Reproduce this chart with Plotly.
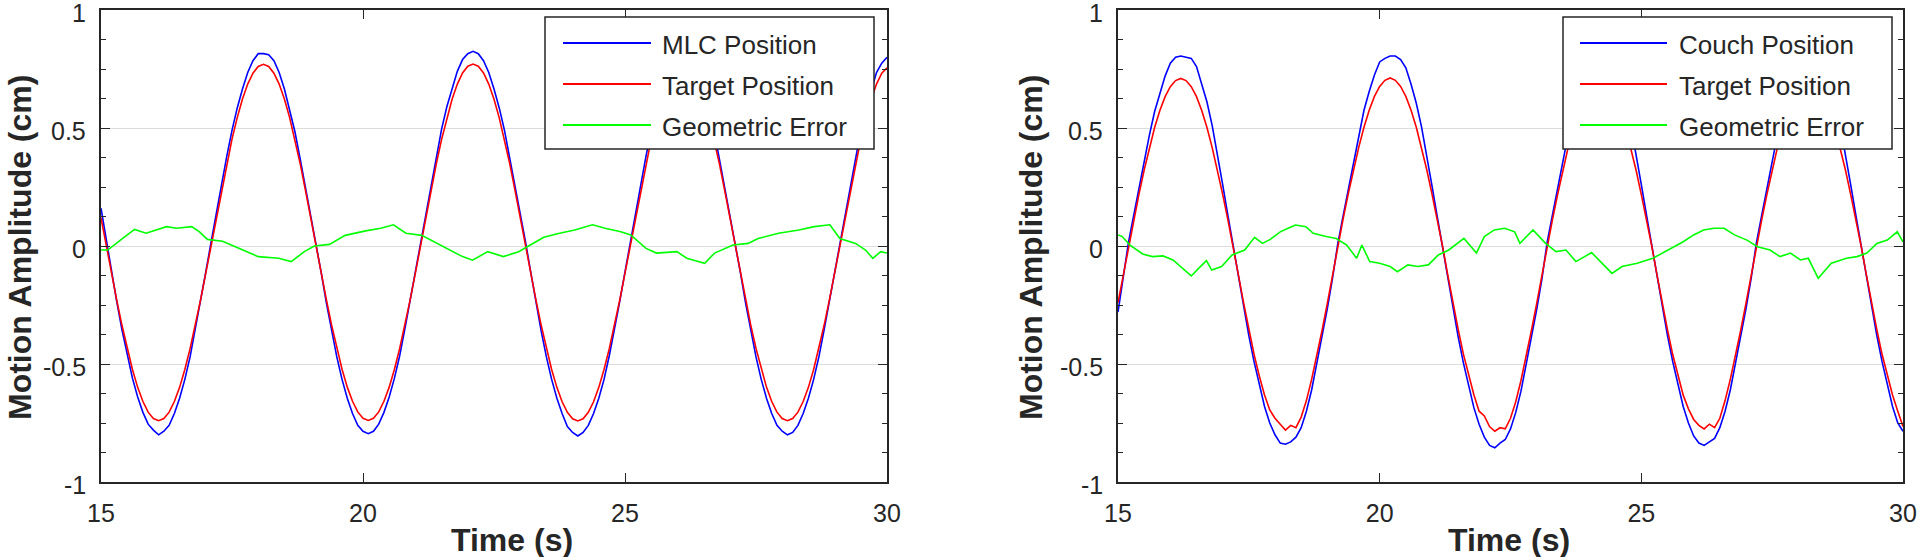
import numpy as np
import plotly.graph_objects as go

# ---------------- data ----------------
time_s = np.round(np.arange(15.0, 30.0001, 0.1), 1)

mlc_position = [0.16,
    0.025, -0.105, -0.235, -0.355, -0.465, -0.56, -0.64, -0.705, -0.755, -0.78, -0.8, -0.785, -0.76, -0.71, -0.645, -0.565, -0.47, -0.355, -0.235, -0.11,
    0.015, 0.14, 0.26, 0.38, 0.49, 0.585, 0.665, 0.735, 0.785, 0.815, 0.815, 0.81, 0.785, 0.735, 0.665, 0.58, 0.485, 0.37, 0.25, 0.13,
    0.02, -0.11, -0.24, -0.36, -0.47, -0.565, -0.645, -0.71, -0.76, -0.785, -0.795, -0.785, -0.755, -0.705, -0.64, -0.56, -0.465, -0.35, -0.23, -0.105,
    0.02, 0.145, 0.265, 0.385, 0.495, 0.59, 0.67, 0.74, 0.79, 0.815, 0.825, 0.815, 0.785, 0.735, 0.665, 0.585, 0.49, 0.375, 0.255, 0.135,
    0.02, -0.11, -0.24, -0.36, -0.47, -0.565, -0.645, -0.71, -0.765, -0.79, -0.805, -0.79, -0.76, -0.71, -0.645, -0.565, -0.465, -0.355, -0.235, -0.11,
    0.015, 0.14, 0.26, 0.38, 0.49, 0.585, 0.665, 0.735, 0.785, 0.81, 0.82, 0.81, 0.785, 0.735, 0.665, 0.58, 0.485, 0.37, 0.25, 0.13,
    0.02, -0.11, -0.24, -0.36, -0.47, -0.565, -0.645, -0.71, -0.76, -0.785, -0.8, -0.79, -0.76, -0.71, -0.645, -0.565, -0.47, -0.355, -0.235, -0.11,
    0.015, 0.14, 0.26, 0.38, 0.49, 0.585, 0.665, 0.735, 0.775, 0.8]

target_left = [0.12,
    0.0, -0.115, -0.229, -0.336, -0.435, -0.523, -0.599, -0.659, -0.704, -0.731, -0.74, -0.731, -0.704, -0.659, -0.599, -0.523, -0.435, -0.336, -0.229, -0.115,
    0.0, 0.12, 0.238, 0.35, 0.453, 0.544, 0.623, 0.686, 0.732, 0.761, 0.77, 0.761, 0.732, 0.686, 0.623, 0.544, 0.453, 0.35, 0.238, 0.12,
    0.004, -0.112, -0.226, -0.334, -0.434, -0.522, -0.598, -0.658, -0.703, -0.73, -0.739, -0.73, -0.703, -0.658, -0.598, -0.522, -0.434, -0.335, -0.228, -0.114,
    0.002, 0.119, 0.237, 0.349, 0.452, 0.543, 0.622, 0.686, 0.733, 0.762, 0.771, 0.762, 0.733, 0.686, 0.622, 0.543, 0.452, 0.349, 0.237, 0.119,
    0.002, -0.114, -0.228, -0.335, -0.435, -0.523, -0.599, -0.66, -0.705, -0.732, -0.741, -0.732, -0.705, -0.66, -0.599, -0.523, -0.435, -0.336, -0.229, -0.115,
    0.0, 0.12, 0.238, 0.35, 0.453, 0.544, 0.623, 0.687, 0.733, 0.762, 0.77, 0.761, 0.732, 0.686, 0.623, 0.544, 0.453, 0.35, 0.238, 0.12,
    0.003, -0.113, -0.227, -0.335, -0.434, -0.522, -0.598, -0.659, -0.704, -0.731, -0.74, -0.731, -0.704, -0.659, -0.599, -0.523, -0.435, -0.336, -0.229, -0.115,
    0.0, 0.12, 0.238, 0.35, 0.453, 0.544, 0.623, 0.686, 0.732, 0.755]

err_left_t = [15.0, 15.13, 15.37, 15.64, 15.86, 16.25, 16.44, 16.73, 16.88, 17.03, 17.32, 17.71, 18.0, 18.39, 18.63, 18.88,
              19.07, 19.36, 19.66, 20.05, 20.34, 20.58, 20.82, 21.12, 21.41, 21.9, 22.09, 22.38, 22.68, 22.97, 23.16, 23.45,
              23.75, 24.04, 24.38, 24.62, 24.92, 25.11, 25.4, 25.6, 25.99, 26.18, 26.52, 26.71, 27.06, 27.35, 27.54, 27.93,
              28.32, 28.61, 28.91, 29.1, 29.4, 29.59, 29.73, 29.88, 30.0]
err_left = [-0.017, -0.017, 0.025, 0.07, 0.054, 0.082, 0.075, 0.082, 0.06, 0.028, 0.02, -0.017, -0.045, -0.052, -0.066, -0.024,
            0.0, 0.007, 0.045, 0.064, 0.075, 0.09, 0.054, 0.045, 0.011, -0.045, -0.06, -0.024, -0.045, -0.024, 0.0, 0.037,
            0.054, 0.068, 0.09, 0.075, 0.06, 0.047, -0.01, -0.03, -0.024, -0.052, -0.073, -0.03, 0.004, 0.011, 0.032, 0.054,
            0.068, 0.082, 0.09, 0.032, 0.011, -0.017, -0.052, -0.024, -0.03]

couch_position = [-0.28, -0.14,
    0.015, 0.13, 0.245, 0.36, 0.47, 0.57, 0.65, 0.72, 0.775, 0.8, 0.805, 0.8, 0.795, 0.76, 0.69, 0.61, 0.51, 0.39, 0.26, 0.13,
    0.0, -0.13, -0.26, -0.38, -0.49, -0.59, -0.68, -0.75, -0.8, -0.835, -0.84, -0.83, -0.81, -0.77, -0.70, -0.61, -0.50, -0.385, -0.265, -0.135,
    0.01, 0.125, 0.24, 0.355, 0.47, 0.575, 0.655, 0.725, 0.78, 0.795, 0.805, 0.805, 0.79, 0.755, 0.685, 0.605, 0.505, 0.385, 0.255, 0.125,
    -0.005, -0.135, -0.265, -0.385, -0.495, -0.595, -0.685, -0.755, -0.81, -0.845, -0.855, -0.835, -0.82, -0.775, -0.705, -0.615, -0.505, -0.39, -0.27, -0.14,
    0.015, 0.13, 0.245, 0.36, 0.47, 0.57, 0.65, 0.72, 0.77, 0.795, 0.8, 0.8, 0.79, 0.755, 0.69, 0.61, 0.51, 0.39, 0.26, 0.13,
    0.0, -0.13, -0.26, -0.38, -0.49, -0.59, -0.68, -0.75, -0.805, -0.835, -0.845, -0.83, -0.815, -0.77, -0.70, -0.61, -0.50, -0.385, -0.265, -0.135,
    0.015, 0.13, 0.245, 0.36, 0.47, 0.57, 0.65, 0.72, 0.775, 0.8, 0.805, 0.8, 0.795, 0.76, 0.69, 0.61, 0.51, 0.39, 0.26, 0.13,
    0.0, -0.13, -0.26, -0.38, -0.49, -0.59, -0.68, -0.75, -0.785]

target_right = [-0.24, -0.122,
    0.0, 0.111, 0.219, 0.322, 0.417, 0.502, 0.574, 0.633, 0.675, 0.701, 0.71, 0.701, 0.675, 0.633, 0.574, 0.502, 0.417, 0.322, 0.219, 0.111,
    0.0, -0.122, -0.241, -0.354, -0.459, -0.551, -0.631, -0.695, -0.73, -0.755, -0.78, -0.76, -0.77, -0.725, -0.655, -0.565, -0.465, -0.357, -0.243, -0.123,
    0.002, 0.113, 0.221, 0.324, 0.418, 0.503, 0.575, 0.634, 0.676, 0.702, 0.712, 0.702, 0.676, 0.634, 0.575, 0.503, 0.418, 0.323, 0.22, 0.112,
    0.001, -0.121, -0.24, -0.353, -0.458, -0.55, -0.63, -0.70, -0.72, -0.765, -0.785, -0.77, -0.775, -0.73, -0.66, -0.57, -0.468, -0.358, -0.244, -0.124,
    0.0, 0.11, 0.218, 0.321, 0.416, 0.501, 0.573, 0.632, 0.674, 0.7, 0.709, 0.7, 0.674, 0.632, 0.573, 0.501, 0.416, 0.321, 0.218, 0.11,
    -0.001, -0.123, -0.242, -0.355, -0.46, -0.552, -0.632, -0.69, -0.735, -0.76, -0.775, -0.755, -0.77, -0.73, -0.655, -0.565, -0.465, -0.356, -0.242, -0.122,
    0.0, 0.111, 0.219, 0.322, 0.417, 0.502, 0.574, 0.633, 0.675, 0.701, 0.71, 0.701, 0.675, 0.633, 0.574, 0.502, 0.417, 0.322, 0.219, 0.111,
    0.0, -0.122, -0.241, -0.354, -0.459, -0.551, -0.631, -0.70, -0.765]

err_right_t = [15.0, 15.08, 15.23, 15.47, 15.66, 15.86, 16.05, 16.2, 16.4, 16.54, 16.69, 16.79, 16.98, 17.18, 17.42, 17.61,
               17.76, 17.91, 18.1, 18.25, 18.39, 18.59, 18.73, 18.98, 19.17, 19.37, 19.56, 19.66, 19.81, 20.0, 20.2, 20.34,
               20.54, 20.73, 20.93, 21.12, 21.32, 21.61, 21.85, 22.0, 22.19, 22.39, 22.58, 22.68, 22.93, 23.17, 23.37, 23.56,
               23.75, 24.05, 24.24, 24.44, 24.63, 24.92, 25.22, 25.51, 25.8, 26.0, 26.19, 26.39, 26.58, 26.78, 27.02, 27.22,
               27.46, 27.65, 27.85, 28.04, 28.19, 28.38, 28.63, 28.92, 29.12, 29.31, 29.5, 29.7, 29.89, 30.0]
err_right = [0.047, 0.04, 0.004, -0.034, -0.045, -0.042, -0.059, -0.087, -0.127, -0.095, -0.062, -0.102, -0.087, -0.038, -0.017, 0.037,
             0.011, 0.028, 0.06, 0.075, 0.089, 0.082, 0.054, 0.04, 0.032, 0.004, -0.052, 0.004, -0.066, -0.073, -0.087, -0.109,
             -0.08, -0.087, -0.08, -0.038, -0.017, 0.032, -0.03, 0.04, 0.068, 0.075, 0.06, 0.011, 0.068, 0.011, -0.024, -0.017,
             -0.066, -0.028, -0.069, -0.116, -0.087, -0.073, -0.052, -0.017, 0.018, 0.047, 0.068, 0.075, 0.075, 0.047, 0.025, -0.003,
             -0.017, -0.045, -0.03, -0.059, -0.052, -0.137, -0.073, -0.052, -0.045, -0.03, 0.011, 0.025, 0.06, 0.018]

x_ticks = [15, 20, 25, 30]
y_ticks = [-1, -0.5, 0, 0.5, 1]
y_tick_text = ["-1", "-0.5", "0", "0.5", "1"]
legend_left = ["MLC Position", "Target Position", "Geometric Error"]
legend_right = ["Couch Position", "Target Position", "Geometric Error"]
series_colors = ["#0000FF", "#FF0000", "#00FF00"]

# ---------------- layout helpers ----------------
W, H = 1920, 557
def px(x):
    return x / W
def py(y):
    return 1 - y / H

TXT = "#262626"
FONT = "Liberation Sans, Arial, sans-serif"

fig = go.Figure()

panels = [
    ("x", "y", time_s, [mlc_position, target_left], err_left_t, err_left, legend_left),
    ("x2", "y2", time_s, [couch_position, target_right], err_right_t, err_right, legend_right),
]
for xa, ya, t, (blue, red), et, ev, names in panels:
    fig.add_trace(go.Scatter(x=t, y=blue, mode="lines", line=dict(color=series_colors[0], width=1.6),
                             xaxis=xa, yaxis=ya, name=names[0], showlegend=False))
    fig.add_trace(go.Scatter(x=t, y=red, mode="lines", line=dict(color=series_colors[1], width=1.6),
                             xaxis=xa, yaxis=ya, name=names[1], showlegend=False))
    fig.add_trace(go.Scatter(x=et, y=ev, mode="lines", line=dict(color=series_colors[2], width=1.6),
                             xaxis=xa, yaxis=ya, name=names[2], showlegend=False))

axis_common = dict(showline=True, linecolor=TXT, linewidth=1.5, mirror="allticks",
                   ticks="inside", ticklen=9, tickwidth=1.2, tickcolor=TXT, automargin=False,
                   ticklabeloverflow="allow",
                   tickfont=dict(family=FONT, size=25, color=TXT), zeroline=False)

xdomL = [px(101), px(887)]
xdomR = [px(1118), px(1903)]
ydom = [py(482), py(10)]

for xkey, ykey, dom, anchor_y, anchor_x in [("xaxis", "yaxis", xdomL, "y", "x"), ("xaxis2", "yaxis2", xdomR, "y2", "x2")]:
    fig.update_layout(**{
        xkey: dict(axis_common, domain=dom, anchor=anchor_y, range=[15, 30], tickvals=x_ticks,
                   showgrid=False, ticklabelstandoff=8),
        ykey: dict(axis_common, domain=ydom, anchor=anchor_x, range=[-1, 1], tickvals=y_ticks,
                   showticklabels=False, showgrid=True, gridcolor="#DCDCDC", gridwidth=1.2,
                   minor=dict(ticks="inside", dtick=0.125, tick0=0, ticklen=5, tickcolor=TXT, showgrid=False)),
    })

shapes = []
annotations = []
# y tick labels (placed on the y scale, nudged slightly down like the reference)
for yref, lab_x in [("y", 88), ("y2", 1105)]:
    for v, s in zip(y_ticks, y_tick_text):
        annotations.append(dict(x=px(lab_x), y=v, xref="paper", yref=yref, text=s, showarrow=False,
                                xanchor="right", yanchor="middle", yshift=-3,
                                font=dict(family=FONT, size=25, color=TXT)))
# axis titles
for cx in [20, 1031]:
    annotations.append(dict(x=px(cx), y=py(248), xref="paper", yref="paper", text="<b>Motion Amplitude (cm)</b>",
                            textangle=-90, showarrow=False, xanchor="center", yanchor="middle",
                            font=dict(family=FONT, size=32, color=TXT)))
for cx in [512, 1509]:
    annotations.append(dict(x=px(cx), y=py(540), xref="paper", yref="paper", text="<b>Time (s)</b>",
                            showarrow=False, xanchor="center", yanchor="middle",
                            font=dict(family=FONT, size=32, color=TXT)))

# legends (drawn as boxes)
for (bx0, bx1, lx0, lx1, tx), names in [((545, 874, 563, 651, 660), legend_left),
                                        ((1563, 1892, 1580, 1667, 1677), legend_right)]:
    shapes.append(dict(type="rect", xref="paper", yref="paper", x0=px(bx0), x1=px(bx1), y0=py(149), y1=py(17),
                       fillcolor="white", line=dict(color=TXT, width=1.5), layer="above"))
    for i, (name, col) in enumerate(zip(names, series_colors)):
        ly = [43, 84, 125][i]
        shapes.append(dict(type="line", xref="paper", yref="paper", x0=px(lx0), x1=px(lx1), y0=py(ly), y1=py(ly),
                           line=dict(color=col, width=2), layer="above"))
        annotations.append(dict(x=px(tx), y=py(ly + 2), xref="paper", yref="paper", text=name, showarrow=False,
                                xanchor="left", yanchor="middle",
                                font=dict(family=FONT, size=26, color=TXT)))

fig.update_layout(width=W, height=H, margin=dict(l=0, r=0, t=0, b=0, pad=0),
                  paper_bgcolor="white", plot_bgcolor="white",
                  shapes=shapes, annotations=annotations, showlegend=False)

fig.write_html("out.html", config={"displayModeBar": False},
               post_script="document.body.style.margin='0';document.body.style.overflow='hidden';")
